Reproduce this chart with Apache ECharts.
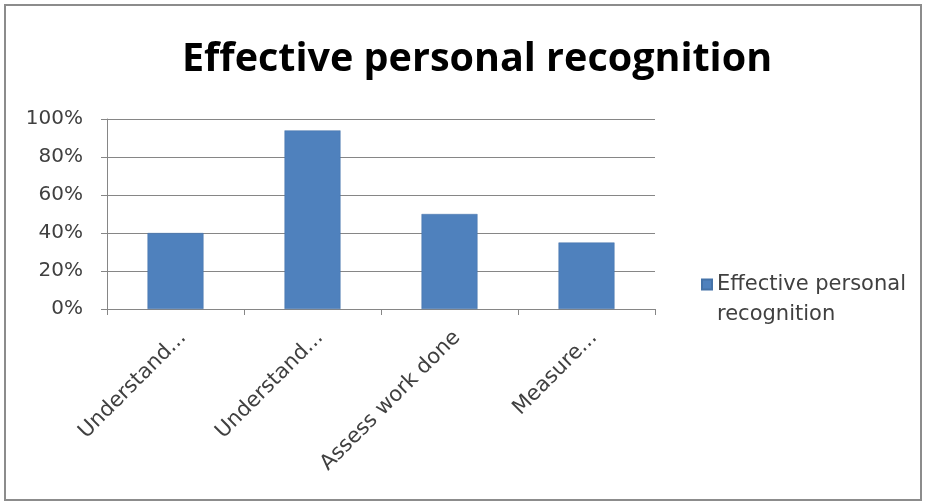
<!DOCTYPE html>
<html><head><meta charset="utf-8">
<script src="https://cdn.jsdelivr.net/npm/echarts@6/dist/echarts.min.js"></script>
<style>html,body{margin:0;padding:0;background:#fff}#c{width:927px;height:504px}</style>
</head><body><div id="c"></div>
<script>
const categories = ['Understand...', 'Understand...', 'Assess work done', 'Measure...'];
const values = [40, 94, 50, 35];
const yTicks = [0, 20, 40, 60, 80, 100];
const seriesName = 'Effective personal recognition';

const chart = echarts.init(document.getElementById('c'));
const font = 'DejaVu Sans';
chart.setOption({
  backgroundColor: '#fff',
  animation: false,
  graphic: [{
    type: 'rect', shape: {x: 5, y: 5, width: 916, height: 495},
    style: {fill: 'none', stroke: '#8c8c8c', lineWidth: 2}
  }],
  title: {
    text: 'Effective personal recognition',
    left: 177, top: 35,
    textStyle: {fontFamily: 'Open Sans', fontWeight: 'bold', fontSize: 39.5, color: '#000'}
  },
  legend: {
    data: [seriesName],
    left: 696, top: 239,
    orient: 'vertical',
    itemWidth: 10, itemHeight: 10, itemGap: 5,
    icon: 'rect',
    selectedMode: false,
    formatter: () => '{s| }\n{a|Effective personal}\n{a|recognition}',
    textStyle: {
      fontFamily: font, fontSize: 21, color: '#404040', padding: [0, 0, 0, 0],
      rich: {
        s: {fontSize: 21, lineHeight: 30},
        a: {fontFamily: font, fontSize: 21, color: '#404040', lineHeight: 30}
      }
    }
  },
  grid: {left: 107, right: 272, top: 119, bottom: 195, containLabel: false},
  xAxis: {
    type: 'category', data: categories,
    axisLine: {lineStyle: {color: '#868686'}},
    axisTick: {show: true, length: 6, lineStyle: {color: '#868686'}},
    axisLabel: {rotate: 45, fontFamily: font, fontSize: 21, color: '#404040', margin: 18, interval: 0,
      verticalAlign: 'top'}
  },
  yAxis: {
    type: 'value', min: 0, max: 100, interval: 20,
    axisLine: {show: true, lineStyle: {color: '#868686'}},
    axisTick: {show: true, length: 6, lineStyle: {color: '#868686'}},
    splitLine: {lineStyle: {color: '#868686'}},
    axisLabel: {fontFamily: font, fontSize: 20, color: '#404040', margin: 24,
      formatter: v => yTicks.includes(v) ? v + '%' : ''}
  },
  series: [{
    name: seriesName, type: 'bar', data: values,
    barWidth: 56,
    itemStyle: {color: '#4F81BD', borderColor: '#4472A8', borderWidth: 0.5}
  }]
});
</script></body></html>
